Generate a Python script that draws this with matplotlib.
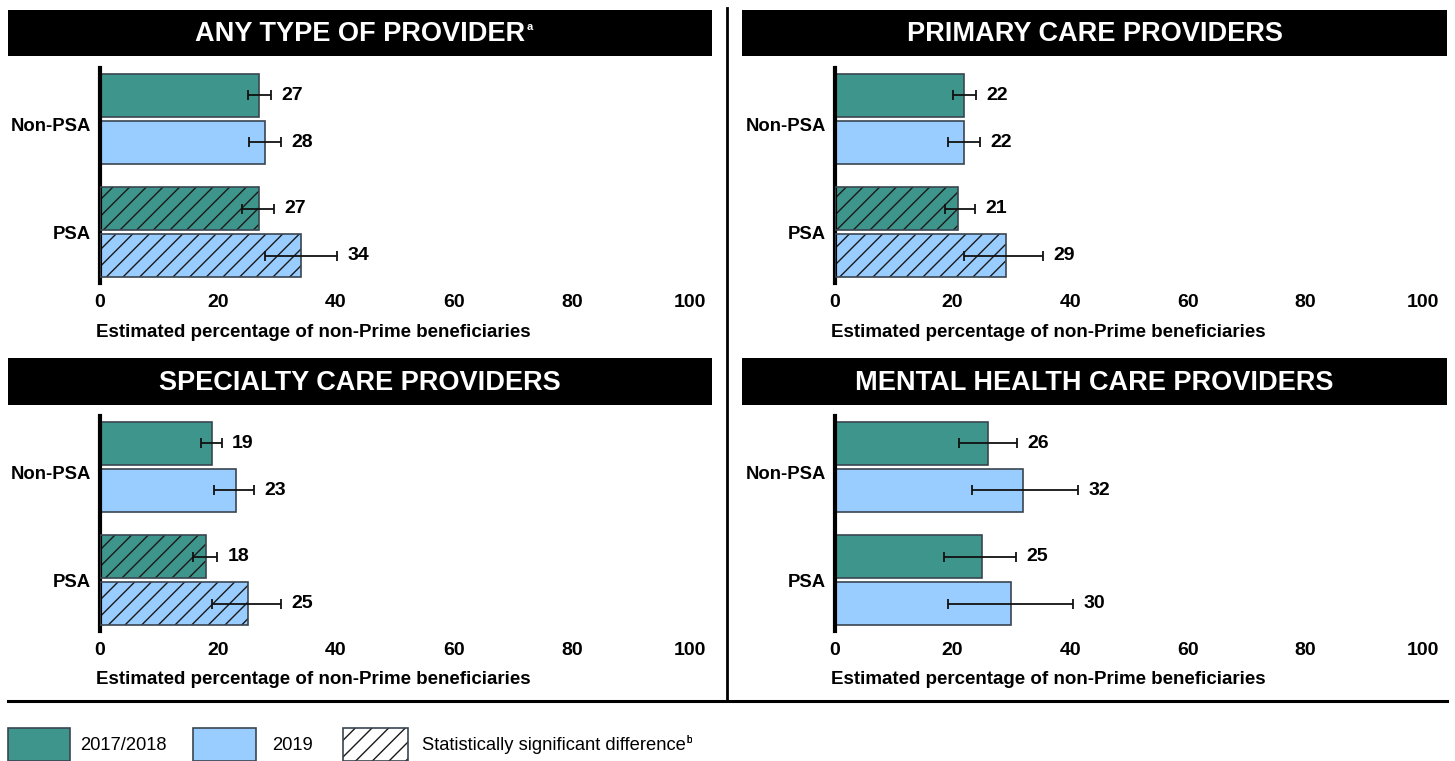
import matplotlib
matplotlib.use("Agg")
import matplotlib.pyplot as plt
from matplotlib.patches import Rectangle
from matplotlib.transforms import ScaledTranslation
import numpy as np

plt.rcParams['font.family'] = ['Liberation Sans', 'DejaVu Sans']
plt.rcParams['hatch.linewidth'] = 1.0

# ---- data -------------------------------------------------------------
categories = ["Non-PSA", "PSA"]
panel_titles = ["ANY TYPE OF PROVIDER", "PRIMARY CARE PROVIDERS",
                "SPECIALTY CARE PROVIDERS", "MENTAL HEALTH CARE PROVIDERS"]
title_notes = ["a", "", "", ""]

pct_2017_2018 = [[27, 27], [22, 21], [19, 18], [26, 25]]
pct_2019 = [[28, 34], [22, 29], [23, 25], [32, 30]]

ci_low_2017_2018 = [[25.0, 24.0], [20.0, 18.7], [17.1, 15.7], [21.1, 18.5]]
ci_high_2017_2018 = [[29.0, 29.5], [24.0, 23.8], [20.6, 19.9], [30.9, 30.8]]
ci_low_2019 = [[25.3, 28.0], [19.2, 22.0], [19.3, 18.9], [23.3, 19.2]]
ci_high_2019 = [[30.7, 40.2], [24.7, 35.4], [26.1, 30.7], [41.3, 40.5]]

significant = [[False, True], [False, True], [False, True], [False, False]]

x_ticks = [0, 20, 40, 60, 80, 100]
x_label = "Estimated percentage of non-Prime beneficiaries"
legend_labels = ["2017/2018", "2019", "Statistically significant difference"]

# ---- style ------------------------------------------------------------
TEAL = "#3E958B"
BLUE = "#99CCFF"
EDGE = "#3A4550"
HATCH = "//"

W, H = 1455, 761
fig = plt.figure(figsize=(W / 100, H / 100), dpi=100)


def fx(px):
    return px / W


def fy(py):
    return 1 - py / H


def fig_rect(x0, y0, x1, y1):
    return [fx(x0), fy(y1), fx(x1) - fx(x0), fy(y0) - fy(y1)]


# panel geometry in pixels: (axes x0, x1, y0, y1, title box x0, x1, y0, y1)
panels = [
    (100, 690, 68, 283, 8, 712, 10, 56),
    (835, 1423, 68, 283, 742, 1447, 10, 56),
    (100, 690, 416, 631, 8, 712, 358, 405),
    (835, 1423, 416, 631, 742, 1447, 358, 405),
]

offset = 0.208
bar_h = 0.38
group_pos = np.arange(len(categories))

for i, (ax0, ax1, ay0, ay1, tx0, tx1, ty0, ty1) in enumerate(panels):
    # title banner
    tax = fig.add_axes(fig_rect(tx0, ty0, tx1, ty1))
    tax.set_facecolor("black")
    tax.set_xticks([])
    tax.set_yticks([])
    for s in tax.spines.values():
        s.set_visible(False)
    ttl = tax.text(0.5, 0.47, panel_titles[i], color="white", fontsize=19.5,
                   fontweight="bold", ha="center", va="center",
                   transform=tax.transAxes)
    if title_notes[i]:
        tax.annotate(title_notes[i], xy=(1, 0.78), xycoords=ttl,
                     xytext=(1, 0), textcoords="offset points",
                     color="white", fontsize=8, fontweight="bold",
                     ha="left", va="center")

    ax = fig.add_axes(fig_rect(ax0, ay0, ax1, ay1))
    for g in range(len(categories)):
        for series, vals, lo, hi, col, dy in [
            (0, pct_2017_2018, ci_low_2017_2018, ci_high_2017_2018, TEAL, -offset),
            (1, pct_2019, ci_low_2019, ci_high_2019, BLUE, offset),
        ]:
            y = group_pos[g] + dy
            v = vals[i][g]
            if significant[i][g]:
                ax.barh(y, v, height=bar_h, color=col, edgecolor="#1a1a1a",
                        hatch=HATCH, linewidth=0, zorder=2)
                ax.barh(y, v, height=bar_h, fill=False, edgecolor=EDGE,
                        linewidth=1.2, zorder=3)
            else:
                ax.barh(y, v, height=bar_h, color=col, edgecolor=EDGE,
                        linewidth=1.2, zorder=2)
            l, h = lo[i][g], hi[i][g]
            ax.errorbar(v, y, xerr=[[v - l], [h - v]], fmt="none",
                        ecolor="#111111", elinewidth=1.3, capsize=3.5,
                        capthick=1.3, zorder=4)
            ax.annotate(f"{v}", xy=(h, y), xytext=(7.5, 0),
                        textcoords="offset points", ha="left", va="center",
                        fontsize=14, fontweight="bold")

    ax.set_xlim(0, 100)
    ax.set_ylim(1.45, -0.45)
    ax.set_xticks(x_ticks)
    ax.set_xticklabels([str(t) for t in x_ticks], fontsize=14,
                       fontweight="bold")
    ax.set_yticks(group_pos)
    ax.set_yticklabels(categories, fontsize=13.3, fontweight="bold")
    ax.tick_params(axis="x", length=0, pad=8)
    ax.tick_params(axis="y", length=0, pad=6.5)
    # the upper category label sits a little below its group centre
    first = ax.get_yticklabels()[0]
    first.set_transform(first.get_transform() +
                        ScaledTranslation(0, -6 / 100, fig.dpi_scale_trans))
    for side in ["top", "right", "bottom"]:
        ax.spines[side].set_visible(False)
    ax.spines["left"].set_linewidth(3)
    ax.spines["left"].set_color("black")
    ax.set_facecolor("none")

    fig.text(fx(ax0 - 4), fy(ay1 + 49), x_label, fontsize=13.5,
             fontweight="bold", ha="left", va="center")

# divider lines
fig.add_artist(plt.Line2D([fx(727), fx(727)], [fy(8), fy(700)],
                          color="black", linewidth=2))
fig.add_artist(plt.Line2D([fx(8), fx(1447)], [fy(701), fy(701)],
                          color="black", linewidth=2.2))

# legend
legend_boxes = [(8, 70, TEAL, None), (193, 256, BLUE, None), (343, 408, "white", HATCH)]
legend_text_x = [80, 272, 422]
for (bx0, bx1, col, hatch), lbl, tx in zip(legend_boxes, legend_labels, legend_text_x):
    rect = dict(xy=(fx(bx0), fy(761)), width=fx(bx1) - fx(bx0),
                height=fy(728) - fy(761), transform=fig.transFigure)
    if hatch:
        fig.add_artist(Rectangle(facecolor=col, edgecolor="#1a1a1a",
                                 hatch=hatch, linewidth=0, **rect))
        fig.add_artist(Rectangle(fill=False, edgecolor=EDGE, linewidth=1.2,
                                 **rect))
    else:
        fig.add_artist(Rectangle(facecolor=col, edgecolor=EDGE,
                                 linewidth=1.2, **rect))
    t = fig.text(fx(tx), fy(745), lbl, fontsize=13.2, ha="left", va="center")
    if lbl.startswith("Statistically"):
        ann = plt.annotate("b", xy=(1, 0.8), xycoords=t, xytext=(0.5, 0),
                           textcoords="offset points", fontsize=7,
                           ha="left", va="center", annotation_clip=False)
        fig.add_artist(ann)

fig.savefig("out.png", dpi=100)
